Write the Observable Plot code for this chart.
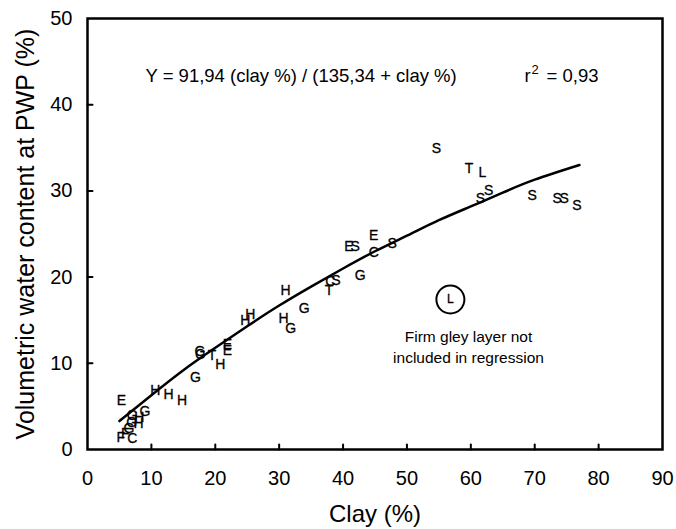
<!DOCTYPE html>
<html>
<head>
<meta charset="utf-8">
<script src="https://cdn.jsdelivr.net/npm/d3@7"></script>
<script src="https://cdn.jsdelivr.net/npm/@observablehq/plot@0.6"></script>
<style>
  html, body { margin: 0; padding: 0; background: white; }
</style>
</head>
<body>
<div id="chart"></div>
<script>
// Observed soil horizons: clay %, water content at PWP %, horizon letter
const clay = [5.3, 9.0, 7.0, 8.1, 8.0, 6.9, 6.5, 5.2, 5.9, 7.0,
              10.6, 12.7, 14.8, 16.9, 17.6, 17.6, 19.5, 20.8, 21.9, 21.9,
              24.7, 25.5, 31.0, 30.7, 31.8, 33.9, 37.8, 38.0, 38.9, 42.7,
              40.9, 41.9, 44.8, 44.8, 47.7, 54.6, 59.7, 61.8, 62.8, 61.5,
              69.6, 73.5, 74.6, 76.6];
const water = [5.7, 4.4, 4.0, 3.7, 3.0, 3.1, 2.4, 1.4, 1.8, 1.3,
               6.8, 6.4, 5.7, 8.4, 11.4, 11.0, 10.9, 9.9, 12.2, 11.5,
               15.0, 15.7, 18.4, 15.2, 14.0, 16.3, 18.4, 19.5, 19.6, 20.2,
               23.5, 23.5, 24.8, 22.9, 23.9, 34.9, 32.6, 32.1, 30.1, 29.1,
               29.5, 29.1, 29.1, 28.3];
const labels = ["E", "G", "G", "H", "H", "G", "G", "F", "F", "C",
                "H", "H", "H", "G", "G", "C", "T", "H", "E", "E",
                "H", "H", "H", "H", "G", "G", "T", "C", "S", "G",
                "E", "S", "E", "C", "S", "S", "T", "L", "S", "S",
                "S", "S", "S", "S"];

// Excluded firm gley layer (circled)
const gleyClay = [56.8];
const gleyWater = [17.4];
const gleyLabel = ["L"];

// Fitted curve as drawn
const curveClay = [5, 10, 15, 20, 25, 30, 35, 40, 45, 50, 55, 60, 65, 70, 77];
const curveWater = [3.3, 6.3, 9.2, 11.8, 14.3, 16.7, 18.9, 21.0, 23.0, 24.8, 26.6, 28.2, 29.8, 31.3, 33.0];

// Axes
const xTicks = [0, 10, 20, 30, 40, 50, 60, 70, 80, 90];
const yTicks = [0, 10, 20, 30, 40, 50];
const xInnerTicks = [10, 20, 30, 40, 50, 60, 70, 80];
const yInnerTicks = [10, 20, 30, 40];
const xTitle = "Clay (%)";
const yTitle = "Volumetric water content at PWP (%)";
const equation = "Y = 91,94 (clay %) / (135,34 + clay %)";
const rsqParts = ["r", "2", "=", "0,93"];
const note = "Firm gley layer not\nincluded in regression";

const points = clay.map((c, i) => ({clay: c, water: water[i], label: labels[i]}));
const gley = gleyClay.map((c, i) => ({clay: c, water: gleyWater[i], label: gleyLabel[i]}));
const curve = curveClay.map((c, i) => ({clay: c, water: curveWater[i]}));

const tickShape = {draw(context, l) { context.moveTo(0, 0); context.lineTo(0, -l); }};
const textStyle = {stroke: "black", strokeWidth: 0.3, fill: "black"};

const chart = Plot.plot({
  width: 676,
  height: 529,
  marginLeft: 87,
  marginRight: 14,
  marginTop: 18,
  marginBottom: 80,
  x: {domain: [0, 90]},
  y: {domain: [0, 50]},
  style: {fontFamily: "'Liberation Sans', Arial, sans-serif", background: "white", color: "black"},
  marks: [
    Plot.axisX(xTicks, {tickSize: 0, tickPadding: 21, fontSize: 20, label: null}),
    Plot.axisY(yTicks, {tickSize: 0, tickPadding: 15, fontSize: 20, label: null}),
    Plot.vector(xInnerTicks, {x: d => d, y: 0, length: 5, rotate: 0, anchor: "start", shape: tickShape, stroke: "black", strokeWidth: 2}),
    Plot.vector(yInnerTicks, {x: 0, y: d => d, length: 5, rotate: 90, anchor: "start", shape: tickShape, stroke: "black", strokeWidth: 2}),
    Plot.line(curve, {x: "clay", y: "water", curve: "natural", stroke: "black", strokeWidth: 2.5}),
    Plot.text(points, {x: "clay", y: "water", text: "label", fontSize: 14, ...textStyle}),
    Plot.dot(gley, {x: "clay", y: "water", r: 14, stroke: "black", strokeWidth: 2, fill: "white"}),
    Plot.text(gley, {x: "clay", y: "water", text: "label", fontSize: 12, ...textStyle}),
    Plot.text([equation], {frameAnchor: "top-left", dx: 58, dy: 58, lineAnchor: "middle", textAnchor: "start", fontSize: 18.5}),
    Plot.text([rsqParts[0]], {frameAnchor: "top-left", dx: 437, dy: 58, lineAnchor: "middle", textAnchor: "start", fontSize: 18.5}),
    Plot.text([rsqParts[1]], {frameAnchor: "top-left", dx: 444, dy: 51, lineAnchor: "middle", textAnchor: "start", fontSize: 13}),
    Plot.text([rsqParts[2]], {frameAnchor: "top-left", dx: 459, dy: 58, lineAnchor: "middle", textAnchor: "start", fontSize: 18.5}),
    Plot.text([rsqParts[3]], {frameAnchor: "top-left", dx: 475, dy: 58, lineAnchor: "middle", textAnchor: "start", fontSize: 18.5}),
    Plot.text([note], {frameAnchor: "top-left", dx: 381, dy: 309, textAnchor: "middle", lineAnchor: "top", fontSize: 15.5, lineHeight: 1.35}),
    Plot.text([xTitle], {frameAnchor: "bottom", dy: 72, fontSize: 24}),
    Plot.text([yTitle], {frameAnchor: "left", dx: -62, rotate: -90, textAnchor: "middle", fontSize: 25}),
    Plot.frame({stroke: "black", strokeWidth: 2.5})
  ]
});
document.getElementById("chart").appendChild(chart);
</script>
</body>
</html>
